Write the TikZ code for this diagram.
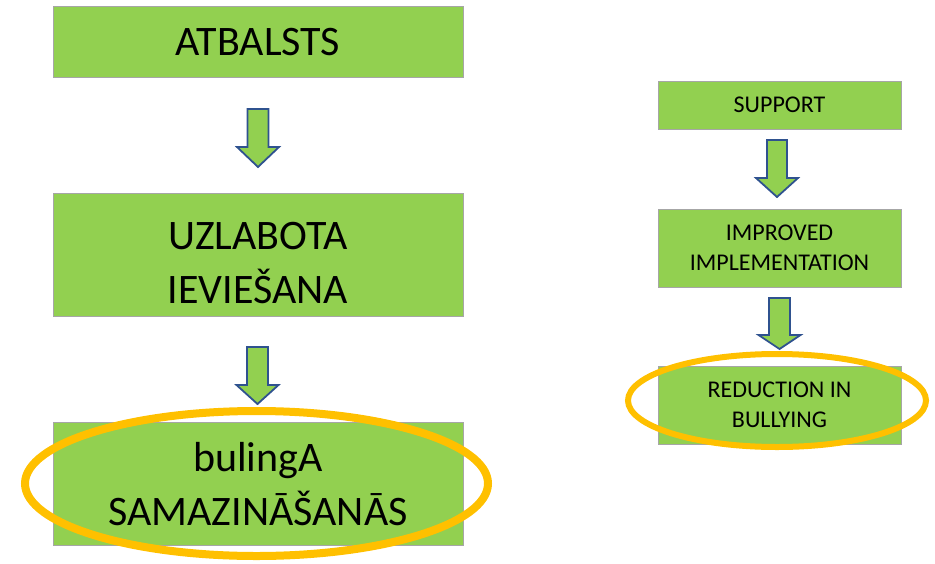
\documentclass[tikz,border=0pt]{standalone}
\usepackage{fontspec}
\setmainfont{Carlito}
\definecolor{boxgreen}{HTML}{92D050}
\definecolor{boxedge}{HTML}{A6A6A6}
\definecolor{arrowedge}{HTML}{2F528F}
\definecolor{ringgold}{HTML}{FFC000}
\newcommand\dnarrow[6]{%
  \draw[blockarrow] (#1-#5,#2) -- (#1+#5,#2) -- (#1+#5,#3) -- (#1+#6,#3) -- (#1,#4) -- (#1-#6,#3) -- (#1-#5,#3) -- cycle;}
\begin{document}
\begin{tikzpicture}[x=1pt,y=-1pt,
  bigbox/.style={draw=boxedge, line width=0.8pt, fill=boxgreen, minimum width=410pt, align=center, inner sep=0pt, font=\fontsize{42}{54}\selectfont},
  smallbox/.style={draw=boxedge, line width=0.8pt, fill=boxgreen, minimum width=243pt, align=center, inner sep=0pt, font=\fontsize{24}{30}\selectfont},
  blockarrow/.style={draw=arrowedge, line width=1.8pt, fill=boxgreen, line join=miter},
  ring/.style={draw=ringgold}]
\useasboundingbox (0,0) rectangle (935,563);
% left column
\node[bigbox, minimum height=71pt] (a1) at (258,42) {ATBALSTS};
\node[bigbox, minimum height=123pt] (a2) at (258,255) {\rule{0pt}{43pt}UZLABOTA\\IEVIEŠANA};
\node[bigbox, minimum height=123pt] (a3) at (258,484) {bulingA\\SAMAZINĀŠANĀS};
% right column
\node[smallbox, minimum height=48pt] (b1) at (779.5,105) {SUPPORT};
\node[smallbox, minimum height=78pt] (b2) at (779.5,248) {IMPROVED\\IMPLEMENTATION};
\node[smallbox, minimum height=78pt] (b3) at (779.5,405) {REDUCTION IN\\BULLYING};
% block arrows
\dnarrow{258}{109}{147}{167}{10.5}{21}
\dnarrow{257.5}{347}{385}{404}{10.5}{21}
\dnarrow{777}{140}{178}{197}{10}{21}
\dnarrow{779.5}{298}{335}{349}{10.5}{21}
% highlight rings
\draw[ring, line width=8pt] (256.5,483.5) ellipse [x radius=231.5pt, y radius=72.5pt];
\draw[ring, line width=6pt] (777,400.5) ellipse [x radius=149pt, y radius=46.5pt];
\end{tikzpicture}
\end{document}
